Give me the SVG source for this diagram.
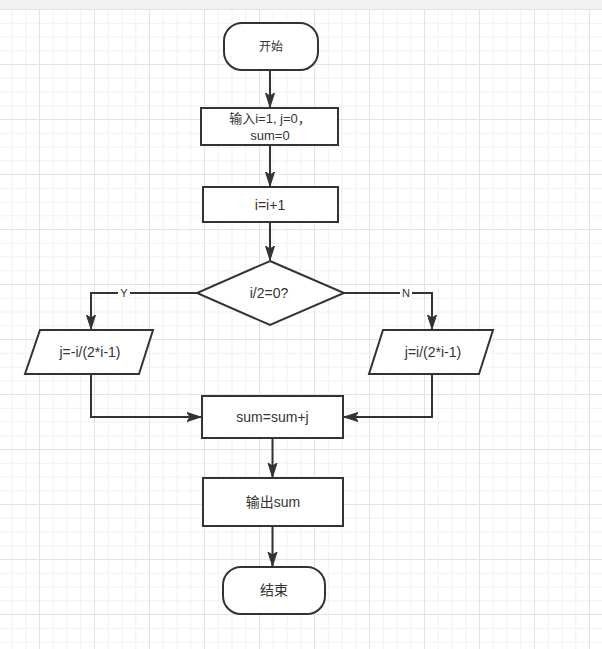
<svg xmlns="http://www.w3.org/2000/svg" width="602" height="649" viewBox="0 0 602 649">
<style>
.shape{fill:#ffffff;stroke:#333333;stroke-width:2}
.conn{fill:none;stroke:#333333;stroke-width:2}
.t{font-family:"Liberation Sans","Noto Sans CJK SC",sans-serif;fill:#333333;text-anchor:middle}
.s14{font-size:14px}
.s13{font-size:13px}
.s12{font-size:12px}
.lbl{font-size:11px}
</style>
<defs>
<pattern id="grid" x="-16" y="9" width="55" height="55" patternUnits="userSpaceOnUse">
<path d="M14.25 0V55M28 0V55M41.75 0V55M0 14.25H55M0 28H55M0 41.75H55" stroke="#f0f0f0" stroke-width="1" fill="none"/>
<path d="M0.5 0V55M0 0.5H55" stroke="#e3e3e3" stroke-width="1" fill="none"/>
</pattern>
<marker id="arrow" markerUnits="userSpaceOnUse" markerWidth="16" markerHeight="12" viewBox="0 0 16 12" refX="14" refY="6" orient="auto">
<path d="M0,1.5 L14,6 L0,10.5 L3,6 Z" fill="#333333" stroke="#333333" stroke-width="1" stroke-linejoin="miter"/>
</marker>
</defs>
<g id="background">
<rect x="0" y="0" width="602" height="649" fill="#ffffff"/>
<rect x="0" y="9" width="602" height="640" fill="url(#grid)"/>
<rect x="0" y="0" width="602" height="9" fill="#f1f1f1"/>
</g>
<g id="connectors">
<path class="conn" d="M270 71V107" marker-end="url(#arrow)"/>
<path class="conn" d="M270 145V186" marker-end="url(#arrow)"/>
<path class="conn" d="M270 222V260" marker-end="url(#arrow)"/>
<path class="conn" d="M197 293H91V329" marker-end="url(#arrow)"/>
<path class="conn" d="M344 293H432V329" marker-end="url(#arrow)"/>
<path class="conn" d="M91 374V417H201" marker-end="url(#arrow)"/>
<path class="conn" d="M432 374V417H344" marker-end="url(#arrow)"/>
<path class="conn" d="M272.5 438V477" marker-end="url(#arrow)"/>
<path class="conn" d="M272.5 526V566" marker-end="url(#arrow)"/>
<rect x="118" y="286" width="12" height="14" fill="#ffffff"/>
<text class="t lbl" x="124" y="297">Y</text>
<rect x="400" y="286" width="12" height="14" fill="#ffffff"/>
<text class="t lbl" x="406" y="297">N</text>
</g>
<g id="start">
<rect class="shape" x="224" y="23" width="94" height="47" rx="18" ry="18"/>
<text class="t s12" x="271" y="51">开始</text>
</g>
<g id="input">
<rect class="shape" x="201" y="108" width="137" height="37"/>
<text class="t s13" x="270" y="123">输入i=1, j=0，</text>
<text class="t s13" x="270" y="139.5">sum=0</text>
</g>
<g id="increment">
<rect class="shape" x="203" y="187" width="135" height="35"/>
<text class="t s14" x="270" y="210">i=i+1</text>
</g>
<g id="decision">
<polygon class="shape" points="270,261 344,293 270,325 197,293"/>
<text class="t s14" x="269" y="298">i/2=0?</text>
</g>
<g id="left-calc">
<polygon class="shape" points="40,330 153,330 139,374 25,374"/>
<text class="t s14" x="90" y="357">j=-i/(2*i-1)</text>
</g>
<g id="right-calc">
<polygon class="shape" points="383,330 493,330 479,374 369,374"/>
<text class="t s14" x="433" y="357">j=i/(2*i-1)</text>
</g>
<g id="sum">
<rect class="shape" x="202" y="396" width="141" height="42"/>
<text class="t s14" x="272.5" y="422">sum=sum+j</text>
</g>
<g id="output">
<rect class="shape" x="203" y="478" width="140" height="48"/>
<text class="t s14" x="273" y="507">输出sum</text>
</g>
<g id="end">
<rect class="shape" x="223" y="567" width="102" height="47" rx="18" ry="18"/>
<text class="t s14" x="274" y="595">结束</text>
</g>
</svg>
